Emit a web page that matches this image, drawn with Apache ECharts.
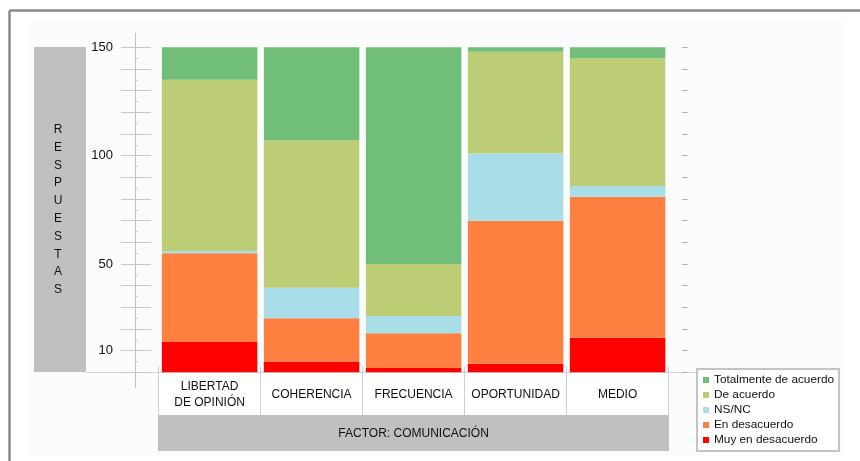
<!DOCTYPE html>
<html>
<head>
<meta charset="utf-8">
<script src="https://cdn.jsdelivr.net/npm/echarts@6/dist/echarts.min.js"></script>
<style>
  html, body { margin: 0; padding: 0; background: #fff; }
  #chart { width: 860px; height: 461px; }
</style>
</head>
<body>
<div id="chart"></div>
<script>
// datos
var categorias = ['LIBERTAD\nDE OPINIÓN', 'COHERENCIA', 'FRECUENCIA', 'OPORTUNIDAD', 'MEDIO'];
var muyDesacuerdo = [14, 5, 2, 4, 16];
var enDesacuerdo = [41, 20, 16, 66, 65];
var nsnc = [1, 14, 8, 31, 5];
var deAcuerdo = [79, 68, 24, 47, 59];
var totalmente = [15, 43, 100, 2, 5];
var etiquetasY = [10, 50, 100, 150];

var fuente = 'Arial, "Liberation Sans", sans-serif';

var myChart = echarts.init(document.getElementById('chart'));

function serie(nombre, datos, color) {
    return {
        name: nombre,
        type: 'bar',
        stack: 'total',
        barWidth: '93.6%',
        itemStyle: { color: color },
        emphasis: { disabled: true },
        data: datos
    };
}

var option = {
    backgroundColor: '#fff',
    animation: false,
    grid: { left: 158.6, right: 191.4, top: 47.3, bottom: 88.7 },
    legend: {
        orient: 'vertical',
        left: 697,
        top: 369,
        padding: [5, 5, 5, 6],
        backgroundColor: '#fff',
        borderColor: '#c4c4c4',
        borderWidth: 2,
        itemWidth: 6,
        itemHeight: 6,
        itemGap: 3,
        icon: 'rect',
        selectedMode: false,
        textStyle: { fontSize: 11.8, color: '#111', fontFamily: fuente },
        data: ['Totalmente de acuerdo', 'De acuerdo', 'NS/NC', 'En desacuerdo', 'Muy en desacuerdo']
    },
    xAxis: [
        {
            type: 'category',
            position: 'bottom',
            data: categorias,
            axisLine: { show: false },
            axisTick: { show: true, interval: 0, length: 43, lineStyle: { color: '#d0d0d0' } },
            axisLabel: {
                interval: 0, margin: 22.5, verticalAlign: 'middle', lineHeight: 16,
                fontSize: 12, color: '#111', fontFamily: fuente
            },
            name: 'FACTOR: COMUNICACIÓN',
            nameLocation: 'middle',
            nameGap: 61,
            nameTextStyle: { fontSize: 12, color: '#111', fontFamily: fuente, verticalAlign: 'middle' }
        },
        {
            type: 'category',
            position: 'bottom',
            data: categorias,
            axisLine: { show: false },
            axisTick: { show: true, inside: true, interval: 0, length: 6, lineStyle: { color: '#d0d0d0' } },
            axisLabel: { show: false }
        }
    ],
    yAxis: [
        {
            type: 'value',
            position: 'left',
            min: 0, max: 150, interval: 10,
            offset: 23.6,
            axisLine: { show: false },
            axisTick: { show: true, length: 14, lineStyle: { color: '#c8c8c8' } },
            splitLine: { show: false },
            axisLabel: {
                margin: 22, fontSize: 13, color: '#111', fontFamily: fuente,
                formatter: function (v) { return etiquetasY.indexOf(v) >= 0 ? String(v) : ''; }
            },
            name: 'R\nE\nS\nP\nU\nE\nS\nT\nA\nS',
            nameLocation: 'middle',
            nameRotate: 0,
            nameGap: 77,
            nameTextStyle: {
                fontSize: 12, color: '#111', fontFamily: fuente, lineHeight: 17.8,
                align: 'center', verticalAlign: 'middle', padding: [0, 0, 10, 0]
            }
        },
        {
            type: 'value',
            position: 'left',
            min: 0, max: 150, interval: 10,
            offset: 23.6,
            axisLine: { show: false },
            axisTick: { show: true, inside: true, length: 16, lineStyle: { color: '#c8c8c8' } },
            minorTick: { show: true, splitNumber: 2, length: 3, lineStyle: { color: '#d0d0d0' } },
            splitLine: { show: false },
            axisLabel: { show: false }
        },
        {
            type: 'value',
            position: 'right',
            min: 0, max: 150, interval: 10,
            offset: 13.4,
            axisLine: { show: false },
            axisTick: { show: true, length: 5.5, lineStyle: { color: '#b0b0b0' } },
            splitLine: { show: false },
            axisLabel: { show: false }
        }
    ],
    graphic: [
        { type: 'rect', z: -10, shape: { x: 30, y: 20, width: 816, height: 436 }, style: { fill: '#fcfcfc' } },
        { type: 'line', z: -5, shape: { x1: 9.5, y1: 10.5, x2: 860, y2: 10.5 }, style: { stroke: '#8a8a8a', lineWidth: 2.5 } },
        { type: 'line', z: -5, shape: { x1: 9.5, y1: 10.5, x2: 9.5, y2: 461 }, style: { stroke: '#8a8a8a', lineWidth: 2.5 } },
        { type: 'rect', z: -5, shape: { x: 34, y: 47, width: 52, height: 325 }, style: { fill: '#c0c0c0' } },
        { type: 'rect', z: -5, shape: { x: 158, y: 372, width: 511, height: 43 }, style: { fill: '#fff' } },
        { type: 'rect', z: -5, shape: { x: 158, y: 415, width: 511, height: 36 }, style: { fill: '#c0c0c0' } },
        { type: 'line', z: -4, shape: { x1: 135.5, y1: 33, x2: 135.5, y2: 388 }, style: { stroke: '#c0c0c0', lineWidth: 1 } },
        { type: 'line', z: -4, shape: { x1: 86, y1: 372.5, x2: 697, y2: 372.5 }, style: { stroke: '#d4d4d4', lineWidth: 1 } }
    ],
    series: [
        serie('Muy en desacuerdo', muyDesacuerdo, '#ff0000'),
        serie('En desacuerdo', enDesacuerdo, '#fd8041'),
        serie('NS/NC', nsnc, '#a9dee8'),
        serie('De acuerdo', deAcuerdo, '#bccd75'),
        serie('Totalmente de acuerdo', totalmente, '#71be79')
    ]
};

myChart.setOption(option);
</script>
</body>
</html>
